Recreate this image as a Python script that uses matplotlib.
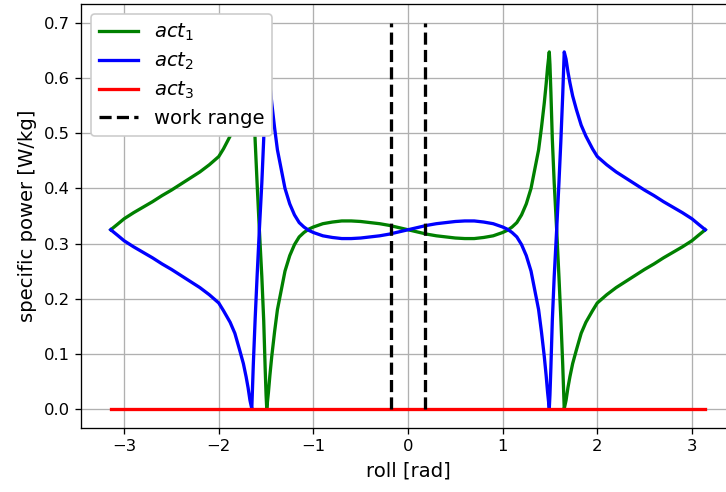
import matplotlib
matplotlib.use('Agg')
import matplotlib.pyplot as plt

# roll angle grid [rad]
roll = [-3.1416, -3.07, -3.0, -2.9, -2.8, -2.7, -2.6, -2.5, -2.4, -2.3,
        -2.2, -2.1, -2.0, -1.95, -1.88, -1.83, -1.78, -1.74, -1.711, -1.69,
        -1.67, -1.651, -1.635, -1.615, -1.595, -1.571, -1.545, -1.525, -1.51, -1.50,
        -1.493, -1.475, -1.46, -1.44, -1.41, -1.38, -1.34, -1.3, -1.25, -1.2,
        -1.15, -1.1, -1.05, -1.0, -0.9, -0.8, -0.7, -0.6, -0.5, -0.4,
        -0.3, -0.2, -0.1,
        0.0, 0.1, 0.2, 0.3, 0.4, 0.5, 0.6, 0.7, 0.8, 0.9,
        1.0, 1.05, 1.1, 1.15, 1.2, 1.25, 1.3, 1.34, 1.38, 1.41,
        1.44, 1.46, 1.475, 1.493, 1.50, 1.51, 1.525, 1.545, 1.571, 1.595,
        1.615, 1.635, 1.651, 1.67, 1.69, 1.711, 1.74, 1.78, 1.83, 1.88,
        1.95, 2.0, 2.1, 2.2, 2.3, 2.4, 2.5, 2.6, 2.7, 2.8,
        2.9, 3.0, 3.07, 3.1416]

# specific power of each actuator [W/kg]
act1 = [0.325, 0.335, 0.345, 0.356, 0.366, 0.376, 0.387, 0.397, 0.408, 0.419,
        0.430, 0.443, 0.458, 0.472, 0.495, 0.515, 0.543, 0.568, 0.592, 0.612,
        0.635, 0.648, 0.570, 0.485, 0.410, 0.325, 0.240, 0.160, 0.075, 0.025,
        0.000, 0.030, 0.060, 0.095, 0.140, 0.180, 0.215, 0.250, 0.278, 0.298,
        0.312, 0.320, 0.326, 0.330, 0.336, 0.339, 0.341, 0.341, 0.340, 0.338,
        0.336, 0.333, 0.329,
        0.325, 0.321, 0.317, 0.314, 0.312, 0.310, 0.309, 0.309, 0.311, 0.314,
        0.320, 0.324, 0.330, 0.338, 0.352, 0.372, 0.400, 0.435, 0.470, 0.510,
        0.555, 0.590, 0.620, 0.648, 0.625, 0.575, 0.490, 0.410, 0.325, 0.240,
        0.165, 0.080, 0.000, 0.015, 0.038, 0.058, 0.082, 0.107, 0.137, 0.157,
        0.178, 0.192, 0.207, 0.220, 0.231, 0.242, 0.253, 0.263, 0.274, 0.284,
        0.294, 0.305, 0.315, 0.325]
act2 = [0.325, 0.315, 0.305, 0.294, 0.284, 0.274, 0.263, 0.253, 0.242, 0.231,
        0.220, 0.207, 0.192, 0.178, 0.157, 0.137, 0.107, 0.082, 0.058, 0.038,
        0.015, 0.000, 0.080, 0.165, 0.240, 0.325, 0.410, 0.490, 0.575, 0.625,
        0.648, 0.620, 0.590, 0.555, 0.510, 0.470, 0.435, 0.400, 0.372, 0.352,
        0.338, 0.330, 0.324, 0.320, 0.314, 0.311, 0.309, 0.309, 0.310, 0.312,
        0.314, 0.317, 0.321,
        0.325, 0.329, 0.333, 0.336, 0.338, 0.340, 0.341, 0.341, 0.339, 0.336,
        0.330, 0.326, 0.320, 0.312, 0.298, 0.278, 0.250, 0.215, 0.180, 0.140,
        0.095, 0.060, 0.030, 0.000, 0.025, 0.075, 0.160, 0.240, 0.325, 0.410,
        0.485, 0.570, 0.648, 0.635, 0.612, 0.592, 0.568, 0.543, 0.515, 0.495,
        0.472, 0.458, 0.443, 0.430, 0.419, 0.408, 0.397, 0.387, 0.376, 0.366,
        0.356, 0.345, 0.335, 0.325]
act3 = [0.0] * len(roll)

# work range limits [rad] and height of the marker lines
work_lo, work_hi = -0.175, 0.175
work_top = 0.7

fig = plt.figure(figsize=(726 / 118, 492 / 118), dpi=118)
ax = fig.add_axes([0.1116, 0.1301, 0.9008, 0.8618])

ax.plot(roll, act1, color='green', lw=2, label=r'$act_1$')
ax.plot(roll, act2, color='blue', lw=2, label=r'$act_2$')
ax.plot(roll, act3, color='red', lw=2, label=r'$act_3$')
ax.plot([work_lo, work_lo], [0, work_top], 'k--', lw=2, label='work range')
ax.plot([work_hi, work_hi], [0, work_top], 'k--', lw=2)

ax.set_xlabel('roll [rad]', fontsize=12)
ax.set_ylabel('specific power [W/kg]', fontsize=12)
ax.legend(loc='upper left', fontsize=12, framealpha=1, labelspacing=0.4)
ax.grid(True)

fig.savefig('out.png', dpi=118)
